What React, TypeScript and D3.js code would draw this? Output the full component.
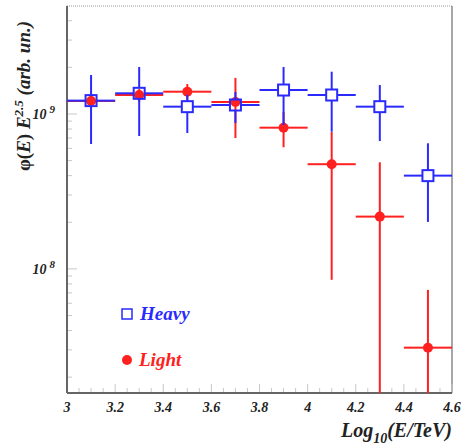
import * as d3 from "d3";

// bin centres (log10 E/TeV)
const bins = [3.1, 3.3, 3.5, 3.7, 3.9, 4.1, 4.3, 4.5];
const binHalf = 0.1;

// Heavy component: value, upper, lower
const heavyVal = [1.22e9, 1.36e9, 1.115e9, 1.143e9, 1.428e9, 1.326e9, 1.115e9, 4.0e8];
const heavyHi = [1.785e9, 2.01e9, 1.33e9, 1.387e9, 2.01e9, 1.875e9, 1.538e9, 6.47e8];
const heavyLo = [6.4e8, 7.21e8, 7.54e8, 8.75e8, 8.49e8, 7.68e8, 6.69e8, 2.01e8];

// Light component
const lightVal = [1.213e9, 1.326e9, 1.393e9, 1.195e9, 8.16e8, 4.74e8, 2.175e8, 3.1e7];
const lightHi = [1.35e9, 1.45e9, 1.56e9, 1.71e9, 1.03e9, 7.65e8, 4.88e8, 7.32e7];
const lightLo = [1.08e9, 1.2e9, 1.23e9, 7.0e8, 6.1e8, 8.5e7, 1e6, 1e6];

const xTicks = [3, 3.2, 3.4, 3.6, 3.8, 4, 4.2, 4.4, 4.6];
const yDecades = [8, 9];

const W = 461, H = 446;
const left = 67, right = 452, top = 6, bottom = 393;
const BLUE = "#2a2aff";
const RED = "#ff2020";
const FONT = "'Liberation Serif', 'DejaVu Serif', serif";

export default function App() {
  const x = d3.scaleLinear().domain([3, 4.6]).range([left, right]);
  const y = d3.scaleLog().domain([1.58e7, 4.98e9]).range([bottom, top]).clamp(true);

  const minorX = d3.range(3, 4.6001, 0.05);
  const minorY: number[] = [];
  [1e7, 1e8, 1e9].forEach(dec => {
    for (let k = 1; k < 10; k++) {
      const v = dec * k;
      if (v >= 1.58e7 && v <= 4.98e9) minorY.push(v);
    }
  });

  const half = 5.5; // square half size
  const r = 5;

  const errBars = (vals: number[], hi: number[], lo: number[], color: string, gap: number, key: string) =>
    bins.map((b, i) => {
      const cx = x(b), cy = y(vals[i]);
      const yHi = y(hi[i]), yLo = y(lo[i]);
      return (
        <g key={key + i} stroke={color} strokeWidth={2}>
          <line x1={x(b - binHalf)} x2={cx - gap} y1={cy} y2={cy} />
          <line x1={cx + gap} x2={x(b + binHalf)} y1={cy} y2={cy} />
          {cy - yHi > gap && <line x1={cx} x2={cx} y1={yHi} y2={cy - gap} />}
          {yLo - cy > gap && <line x1={cx} x2={cx} y1={cy + gap} y2={yLo} />}
        </g>
      );
    });

  return (
    <svg width={W} height={H} style={{ position: "absolute", left: 0, top: 0, background: "#fff" }}>
      {/* frame */}
      <line x1={left} x2={right} y1={top} y2={top} stroke="#999" strokeWidth={1} strokeDasharray="1 1" />
      <line x1={right} x2={right} y1={top} y2={bottom} stroke="#888" strokeWidth={1.5} />

      {/* ticks */}
      {minorX.map((v, i) => {
        const major = Math.abs(v * 5 - Math.round(v * 5)) < 1e-6;
        return <line key={"mx" + i} x1={x(v)} x2={x(v)} y1={bottom} y2={bottom - (major ? 9 : 5)} stroke="#c8c8c8" strokeWidth={1} />;
      })}
      {minorY.map((v, i) => {
        const major = Math.abs(Math.log10(v) - Math.round(Math.log10(v))) < 1e-6;
        return <line key={"my" + i} x1={left} x2={left + (major ? 10 : 5)} y1={y(v)} y2={y(v)} stroke="#c8c8c8" strokeWidth={1} />;
      })}

      <line x1={left} x2={left} y1={top} y2={bottom} stroke="#666" strokeWidth={2} />
      <line x1={left} x2={right} y1={bottom} y2={bottom} stroke="#666" strokeWidth={2} />

      {/* x tick labels */}
      {xTicks.map(t => (
        <text key={"xt" + t} x={x(t)} y={bottom + 19} textAnchor="middle" fontFamily={FONT}
          fontStyle="italic" fontWeight="bold" fontSize={14} fill="#222">{t}</text>
      ))}

      {/* y tick labels */}
      {yDecades.map(d => (
        <text key={"yt" + d} x={left - 12} y={y(Math.pow(10, d)) + 5} textAnchor="end" fontFamily={FONT}
          fontStyle="italic" fontWeight="bold" fontSize={14} fill="#222">
          10<tspan dx={3} dy={-6} fontSize={11}>{d}</tspan>
        </text>
      ))}

      {/* data */}
      <defs>
        <clipPath id="plotclip">
          <rect x={left} y={top} width={right - left} height={bottom - top} />
        </clipPath>
      </defs>
      <g clipPath="url(#plotclip)">
        {errBars(lightVal, lightHi, lightLo, RED, 0, "l")}
        {bins.map((b, i) => (
          <circle key={"lc" + i} cx={x(b)} cy={y(lightVal[i])} r={r} fill={RED} />
        ))}
        {errBars(heavyVal, heavyHi, heavyLo, BLUE, half, "h")}
        {bins.map((b, i) => (
          <rect key={"hs" + i} x={x(b) - half} y={y(heavyVal[i]) - half} width={half * 2} height={half * 2}
            fill="none" stroke={BLUE} strokeWidth={2} />
        ))}
      </g>

      {/* legend */}
      <rect x={122} y={309} width={10} height={10} fill="none" stroke={BLUE} strokeWidth={1.5} />
      <text x={140} y={320} fontFamily={FONT} fontStyle="italic" fontWeight="bold" fontSize={19} fill={BLUE}>Heavy</text>
      <circle cx={127} cy={360} r={5} fill={RED} />
      <text x={139} y={366} fontFamily={FONT} fontStyle="italic" fontWeight="bold" fontSize={19} fill={RED}>Light</text>

      {/* axis titles */}
      <text x={right} y={437} textAnchor="end" fontFamily={FONT} fontStyle="italic" fontWeight="bold" fontSize={20} fill="#222">
        Log<tspan dy={6} fontSize={14}>10</tspan><tspan dy={-6}>(E/TeV)</tspan>
      </text>
      <text transform={`translate(30, 96) rotate(-90)`} textAnchor="middle" fontFamily={FONT}
        fontWeight="bold" fontSize={19} fill="#222">
        <tspan fontStyle="normal">φ(</tspan><tspan fontStyle="italic">E</tspan><tspan fontStyle="normal">) </tspan>
        <tspan fontStyle="italic">E</tspan><tspan fontStyle="italic" dy={-7} fontSize={13}>2.5</tspan>
        <tspan fontStyle="italic" dy={7}> (arb. un.)</tspan>
      </text>
    </svg>
  );
}
